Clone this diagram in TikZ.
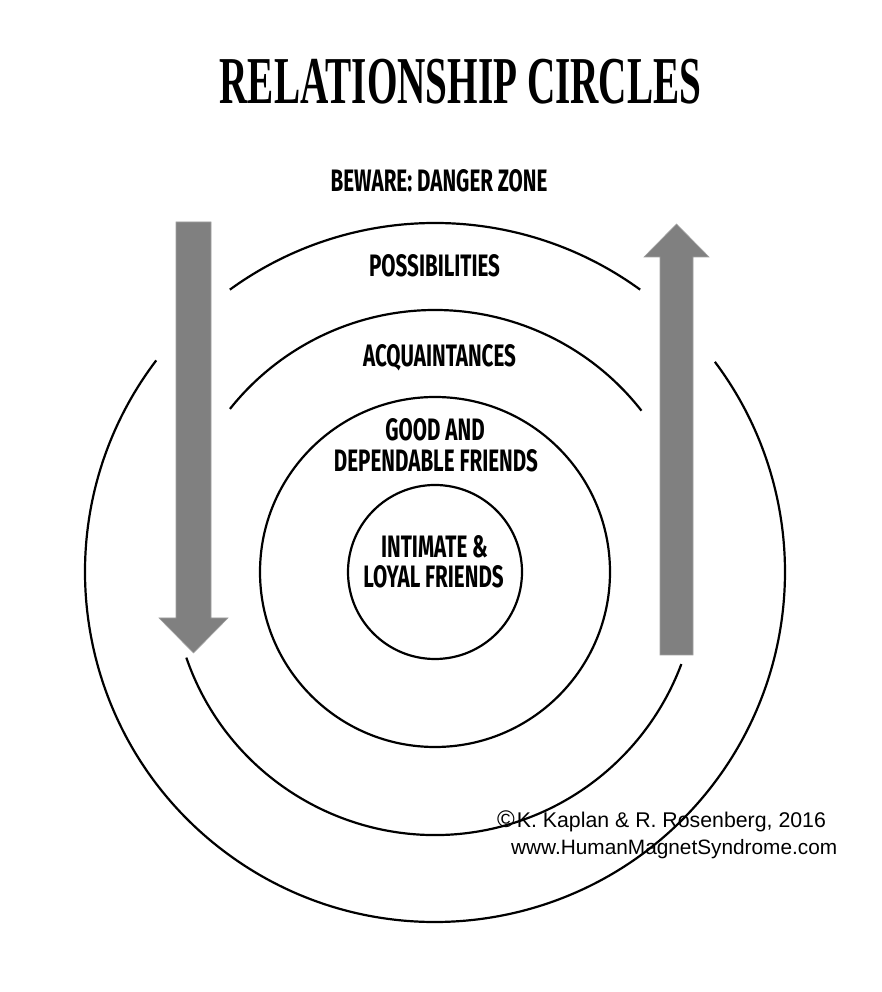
\documentclass[tikz,border=0pt]{standalone}
\usepackage{fontspec}
\setmainfont{Liberation Sans}
\newfontfamily\titlefont[FakeStretch=0.585]{Liberation Serif}
\newfontfamily\labfont[FakeStretch=0.665]{Fira Sans}
\definecolor{arrowgray}{RGB}{128,128,128}
\begin{document}
\begin{tikzpicture}[x=1pt,y=1pt,
  ring/.style={draw=black, line width=2.2pt},
  ringnode/.style={ring, circle, inner sep=0pt, outer sep=0pt},
  bigarrow/.style={fill=arrowgray, draw=arrowgray!75, line width=0.6pt},
  lab/.style={anchor=base, inner sep=0pt, font=\labfont\bfseries\fontsize{31}{32}\selectfont},
  ttl/.style={anchor=base, inner sep=0pt, font=\titlefont\bfseries\fontsize{67}{67}\selectfont},
  credit/.style={anchor=base west, inner sep=0pt, font=\fontsize{20.8}{22}\selectfont},
]
\useasboundingbox (0,0) rectangle (882,992);
\fill[white] (0,0) rectangle (882,992);
\coordinate (c) at (435,420);

% full circles
\node[ringnode, minimum size=174pt] (inner) at (c) {};
\node[ringnode, minimum size=350pt] (good) at (c) {};

% acquaintance circle (broken at the arrows)
\draw[ring] (c) ++(38:262) arc[start angle=38, end angle=141.5, radius=262];
\draw[ring] (c) ++(199:263) arc[start angle=199, end angle=339.5, radius=263];

% outer circle (broken at the arrows)
\draw[ring] (c) ++(54:349) arc[start angle=54, end angle=126, radius=349];
\draw[ring] (c) ++(142.8:350) arc[start angle=142.8, end angle=396.9, radius=350];

% arrows
\draw[bigarrow] (176,770) -- (211,770) -- (211,374) -- (228,374) -- (193.5,339)
  -- (159,374) -- (176,374) -- cycle;
\draw[bigarrow] (660,337) -- (693,337) -- (693,735) -- (709,735) -- (676.5,768)
  -- (644,735) -- (660,735) -- cycle;

% texts
\node[ttl] (title) at (460.5,888) {RELATIONSHIP CIRCLES};
\node[lab] (beware) at (439,800) {BEWARE: DANGER ZONE};
\node[lab] (possib) at (434.5,715) {POSSIBILITIES};
\node[lab] (acq) at (439.5,625) {ACQUAINTANCES};
\node[lab] (goodA) at (435,551) {GOOD AND};
\node[lab] (goodB) at (436,520) {DEPENDABLE FRIENDS};
\node[lab] (intA) at (434.5,434) {INTIMATE \&};
\node[lab] (intB) at (433.5,404) {LOYAL FRIENDS};
\node[credit] (copy) at (497,164) {{\fontsize{24}{24}\selectfont ©}\hspace{2pt}{\fontsize{21.3}{22}\selectfont K. Kaplan \& R. Rosenberg, 2016}};
\node[credit] (web) at (511,137) {www.HumanMagnetSyndrome.com};
\end{tikzpicture}
\end{document}
